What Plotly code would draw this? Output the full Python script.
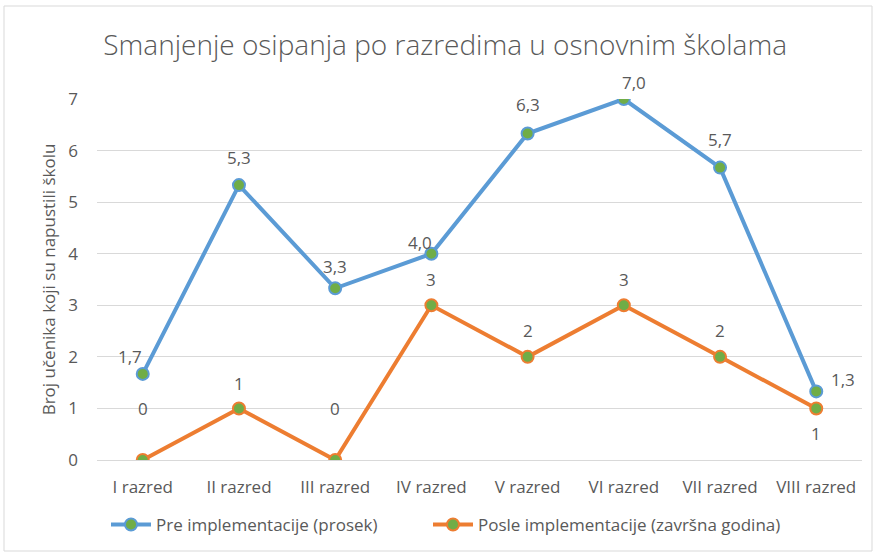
import plotly.graph_objects as go

categories = ["I razred", "II razred", "III razred", "IV razred", "V razred",
              "VI razred", "VII razred", "VIII razred"]
pre_values = [1.67, 5.33, 3.33, 4.0, 6.33, 7.0, 5.67, 1.33]
pre_labels = ["1,7", "5,3", "3,3", "4,0", "6,3", "7,0", "5,7", "1,3"]
post_values = [0, 1, 0, 3, 2, 3, 2, 1]
post_labels = ["0", "1", "0", "3", "2", "3", "2", "1"]

# label pixel offsets (style only)
pre_offsets = [(-13, 17), (0, 28), (0, 22), (-11, 11), (0, 29), (10, 17), (0, 28), (27, 12)]
post_offsets = [(0, 52), (0, 25), (0, 52), (0, 26), (0, 26), (0, 26), (0, 26), (0, -25)]

BLUE = "#5B9BD5"
ORANGE = "#ED7D31"
GREEN = "#70AD47"
TXT = "#595959"
FONT = "Open Sans, sans-serif"
FS = 17

fig = go.Figure()
fig.add_trace(go.Scatter(
    x=categories, y=pre_values, mode="lines+markers",
    name="Pre implementacije (prosek)", legend="legend",
    line=dict(color=BLUE, width=4),
    marker=dict(size=12, color=GREEN, line=dict(color=BLUE, width=2)),
))
fig.add_trace(go.Scatter(
    x=categories, y=post_values, mode="lines+markers",
    name="Posle implementacije (završna godina)", legend="legend2",
    line=dict(color=ORANGE, width=4),
    marker=dict(size=12, color=GREEN, line=dict(color=ORANGE, width=2)),
))

annotations = []
for cat, v, lab, (dx, dy) in zip(categories, pre_values, pre_labels, pre_offsets):
    annotations.append(dict(x=cat, y=v, xref="x", yref="y", text=lab, showarrow=False,
                            xshift=dx, yshift=dy, font=dict(size=FS, color=TXT, family=FONT)))
for cat, v, lab, (dx, dy) in zip(categories, post_values, post_labels, post_offsets):
    annotations.append(dict(x=cat, y=v, xref="x", yref="y", text=lab, showarrow=False,
                            xshift=dx, yshift=dy, font=dict(size=FS, color=TXT, family=FONT)))

legend_style = dict(orientation="h", yanchor="middle", y=-0.18, xanchor="left",
                    font=dict(size=FS, color=TXT, family=FONT), itemwidth=40,
                    bgcolor="rgba(0,0,0,0)")

fig.update_layout(
    width=878, height=557,
    margin=dict(l=97, r=16, t=99, b=97),
    paper_bgcolor="white", plot_bgcolor="white",
    font=dict(family=FONT, color=TXT, size=FS),
    title=dict(text="Smanjenje osipanja po razredima u osnovnim školama",
               x=0.507, xanchor="center", y=0.919, yanchor="middle",
               font=dict(size=28, color=TXT, family=FONT, weight=300)),
    showlegend=True,
    legend=dict(x=(106 - 97) / 765, **legend_style),
    legend2=dict(x=(428 - 97) / 765, **legend_style),
    annotations=annotations,
    shapes=[dict(type="rect", xref="paper", yref="paper",
                 x0=(4 - 97) / 765, x1=(872 - 97) / 765,
                 y0=(460 - 551) / 361, y1=(460 - 6) / 361,
                 line=dict(color="#D9D9D9", width=1), layer="below")],
)
fig.update_xaxes(showgrid=False, showline=True, linecolor="#D9D9D9", linewidth=1,
                 ticks="", tickfont=dict(size=FS, color=TXT), ticklabelstandoff=12)
fig.update_yaxes(range=[0, 7], dtick=1, showgrid=True, gridcolor="#D9D9D9", gridwidth=1,
                 zeroline=False, showline=False, ticks="",
                 tickfont=dict(size=FS, color=TXT), ticklabelstandoff=18,
                 title=dict(text="Broj učenika koji su napustili školu",
                            font=dict(size=FS, color=TXT), standoff=8))

fig.write_html("out.html", config={"displayModeBar": False},
               post_script="document.body.style.margin='0px';")
